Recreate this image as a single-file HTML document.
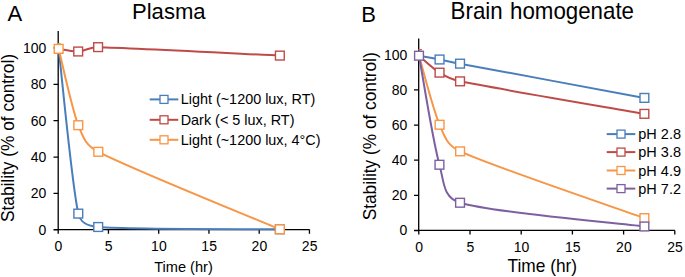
<!DOCTYPE html>
<html><head><meta charset="utf-8"><style>
html,body{margin:0;padding:0;background:#fff;}
body{width:685px;height:277px;overflow:hidden;}
svg{display:block;font-family:"Liberation Sans",sans-serif;fill:#000;}
</style></head><body>
<svg width="685" height="277" viewBox="0 0 685 277">
<rect width="685" height="277" fill="#fff"/>
<text transform="translate(7.60,21.40) scale(1,1.04)" font-size="22">A</text>
<text transform="translate(168.80,19.00) scale(1,1.04)" text-anchor="middle" font-size="22.1">Plasma</text>
<text transform="translate(361.30,21.90) scale(1,1.04)" font-size="22">B</text>
<text transform="translate(450.60,19.00) scale(1,1.04)" font-size="22.3">Brain</text>
<text transform="translate(510.00,19.00) scale(1,1.04)" font-size="22.3">homogenate</text>
<text transform="translate(13.80,138.00) rotate(-90) scale(1,1.04)" text-anchor="middle" font-size="17.3">Stability (% of control)</text>
<text transform="translate(376.30,136.30) rotate(-90) scale(1,1.04)" text-anchor="middle" font-size="17.3">Stability (% of control)</text>
<text transform="translate(183.50,271.80) scale(1,1.04)" text-anchor="middle" font-size="14.6">Time (hr)</text>
<text transform="translate(542.30,271.80) scale(1,1.04)" text-anchor="middle" font-size="17.3">Time (hr)</text>
<path d="M58.20,30.90 V229.60 H309.50" fill="none" stroke="#000" stroke-width="1.3"/>
<text transform="translate(46.30,234.65) scale(1,1.04)" text-anchor="end" font-size="14">0</text>
<text transform="translate(46.30,198.29) scale(1,1.04)" text-anchor="end" font-size="14">20</text>
<text transform="translate(46.30,161.93) scale(1,1.04)" text-anchor="end" font-size="14">40</text>
<text transform="translate(46.30,125.57) scale(1,1.04)" text-anchor="end" font-size="14">60</text>
<text transform="translate(46.30,89.21) scale(1,1.04)" text-anchor="end" font-size="14">80</text>
<text transform="translate(46.30,52.85) scale(1,1.04)" text-anchor="end" font-size="14">100</text>
<text transform="translate(58.40,250.60) scale(1,1.04)" text-anchor="middle" font-size="14">0</text>
<text transform="translate(108.65,250.60) scale(1,1.04)" text-anchor="middle" font-size="14">5</text>
<text transform="translate(158.90,250.60) scale(1,1.04)" text-anchor="middle" font-size="14">10</text>
<text transform="translate(209.15,250.60) scale(1,1.04)" text-anchor="middle" font-size="14">15</text>
<text transform="translate(259.40,250.60) scale(1,1.04)" text-anchor="middle" font-size="14">20</text>
<text transform="translate(309.65,250.60) scale(1,1.04)" text-anchor="middle" font-size="14">25</text>
<path d="M53.50,229.75 H58.20 M53.50,193.39 H58.20 M53.50,157.03 H58.20 M53.50,120.67 H58.20 M53.50,84.31 H58.20 M53.50,47.95 H58.20 M58.20,229.60 V233.80 M108.45,229.60 V233.80 M158.70,229.60 V233.80 M208.95,229.60 V233.80 M259.20,229.60 V233.80 M309.45,229.60 V233.80" fill="none" stroke="#000" stroke-width="1.3"/>
<path d="M418.70,38.40 V230.40 H674.90" fill="none" stroke="#000" stroke-width="1.3"/>
<text transform="translate(407.40,235.40) scale(1,1.04)" text-anchor="end" font-size="14">0</text>
<text transform="translate(407.40,200.26) scale(1,1.04)" text-anchor="end" font-size="14">20</text>
<text transform="translate(407.40,165.12) scale(1,1.04)" text-anchor="end" font-size="14">40</text>
<text transform="translate(407.40,129.98) scale(1,1.04)" text-anchor="end" font-size="14">60</text>
<text transform="translate(407.40,94.84) scale(1,1.04)" text-anchor="end" font-size="14">80</text>
<text transform="translate(407.40,59.70) scale(1,1.04)" text-anchor="end" font-size="14">100</text>
<text transform="translate(419.10,252.00) scale(1,1.04)" text-anchor="middle" font-size="14">0</text>
<text transform="translate(470.30,252.00) scale(1,1.04)" text-anchor="middle" font-size="14">5</text>
<text transform="translate(521.50,252.00) scale(1,1.04)" text-anchor="middle" font-size="14">10</text>
<text transform="translate(572.70,252.00) scale(1,1.04)" text-anchor="middle" font-size="14">15</text>
<text transform="translate(623.90,252.00) scale(1,1.04)" text-anchor="middle" font-size="14">20</text>
<text transform="translate(675.10,252.00) scale(1,1.04)" text-anchor="middle" font-size="14">25</text>
<path d="M414.00,230.50 H418.70 M414.00,195.36 H418.70 M414.00,160.22 H418.70 M414.00,125.08 H418.70 M414.00,89.94 H418.70 M414.00,54.80 H418.70 M418.80,230.40 V234.60 M470.00,230.40 V234.60 M521.20,230.40 V234.60 M572.40,230.40 V234.60 M623.60,230.40 V234.60 M674.80,230.40 V234.60" fill="none" stroke="#000" stroke-width="1.3"/>
<path d="M58.65,48.85 C61.92,76.31 71.71,183.91 78.30,213.60 C80.48,223.44 88.15,226.22 98.20,227.00 C131.79,229.62 249.58,228.92 279.85,229.30" fill="none" stroke="#4a7ebb" stroke-width="2.0" stroke-linejoin="round"/>
<rect x="73.90" y="209.20" width="8.8" height="8.8" fill="#fff" stroke="#4a7ebb" stroke-width="1.4"/>
<rect x="93.80" y="222.60" width="8.8" height="8.8" fill="#fff" stroke="#4a7ebb" stroke-width="1.4"/>
<rect x="275.45" y="224.90" width="8.8" height="8.8" fill="#fff" stroke="#4a7ebb" stroke-width="1.4"/>
<path d="M58.65,48.85 C61.91,49.29 71.62,51.78 78.20,51.50 C84.78,51.22 89.55,46.98 98.10,47.15 C131.71,47.83 249.56,54.19 279.85,55.60" fill="none" stroke="#be4b48" stroke-width="2.0" stroke-linejoin="round"/>
<rect x="73.80" y="47.10" width="8.8" height="8.8" fill="#fff" stroke="#be4b48" stroke-width="1.4"/>
<rect x="93.70" y="42.75" width="8.8" height="8.8" fill="#fff" stroke="#be4b48" stroke-width="1.4"/>
<rect x="275.45" y="51.20" width="8.8" height="8.8" fill="#fff" stroke="#be4b48" stroke-width="1.4"/>
<path d="M58.65,48.85 C61.92,61.58 71.69,108.04 78.30,125.20 C83.32,138.24 85.88,145.39 98.30,151.80 C131.89,169.15 249.59,216.38 279.85,229.30" fill="none" stroke="#f79646" stroke-width="2.0" stroke-linejoin="round"/>
<rect x="54.25" y="44.45" width="8.8" height="8.8" fill="#fff" stroke="#f79646" stroke-width="1.4"/>
<rect x="73.90" y="120.80" width="8.8" height="8.8" fill="#fff" stroke="#f79646" stroke-width="1.4"/>
<rect x="93.90" y="147.40" width="8.8" height="8.8" fill="#fff" stroke="#f79646" stroke-width="1.4"/>
<rect x="275.45" y="224.90" width="8.8" height="8.8" fill="#fff" stroke="#f79646" stroke-width="1.4"/>
<path d="M419.00,55.70 C422.43,56.33 432.71,58.17 439.55,59.50 C446.39,60.83 451.42,62.03 460.05,63.65 C494.19,70.05 613.67,92.19 644.40,97.90" fill="none" stroke="#4a7ebb" stroke-width="2.0" stroke-linejoin="round"/>
<rect x="435.15" y="55.10" width="8.8" height="8.8" fill="#fff" stroke="#4a7ebb" stroke-width="1.4"/>
<rect x="455.65" y="59.25" width="8.8" height="8.8" fill="#fff" stroke="#4a7ebb" stroke-width="1.4"/>
<rect x="640.00" y="93.50" width="8.8" height="8.8" fill="#fff" stroke="#4a7ebb" stroke-width="1.4"/>
<path d="M419.00,55.70 C422.43,58.53 432.71,68.38 439.55,72.65 C446.39,76.93 450.88,79.51 460.05,81.35 C494.19,88.22 613.67,108.43 644.40,113.85" fill="none" stroke="#be4b48" stroke-width="2.0" stroke-linejoin="round"/>
<rect x="435.15" y="68.25" width="8.8" height="8.8" fill="#fff" stroke="#be4b48" stroke-width="1.4"/>
<rect x="455.65" y="76.95" width="8.8" height="8.8" fill="#fff" stroke="#be4b48" stroke-width="1.4"/>
<rect x="640.00" y="109.45" width="8.8" height="8.8" fill="#fff" stroke="#be4b48" stroke-width="1.4"/>
<path d="M419.00,55.70 C422.43,67.21 432.75,108.81 439.60,124.75 C445.17,137.71 447.27,145.50 460.10,151.35 C494.23,166.92 613.68,207.02 644.40,218.15" fill="none" stroke="#f79646" stroke-width="2.0" stroke-linejoin="round"/>
<rect x="435.20" y="120.35" width="8.8" height="8.8" fill="#fff" stroke="#f79646" stroke-width="1.4"/>
<rect x="455.70" y="146.95" width="8.8" height="8.8" fill="#fff" stroke="#f79646" stroke-width="1.4"/>
<rect x="640.00" y="213.75" width="8.8" height="8.8" fill="#fff" stroke="#f79646" stroke-width="1.4"/>
<path d="M419.00,55.70 C422.41,73.88 432.61,140.24 439.45,164.75 C444.33,182.24 442.67,197.51 460.05,202.75 C494.21,213.04 613.67,222.54 644.40,226.50" fill="none" stroke="#7d60a0" stroke-width="2.0" stroke-linejoin="round"/>
<rect x="414.60" y="51.30" width="8.8" height="8.8" fill="#fff" stroke="#7d60a0" stroke-width="1.4"/>
<rect x="435.05" y="160.35" width="8.8" height="8.8" fill="#fff" stroke="#7d60a0" stroke-width="1.4"/>
<rect x="455.65" y="198.35" width="8.8" height="8.8" fill="#fff" stroke="#7d60a0" stroke-width="1.4"/>
<rect x="640.00" y="222.10" width="8.8" height="8.8" fill="#fff" stroke="#7d60a0" stroke-width="1.4"/>
<rect x="418.2" y="49.1" width="3.8" height="1.3" fill="#c45a55"/>
<rect x="57.6" y="42.9" width="3.2" height="1.0" fill="#b4b450"/>
<path d="M149.70,99.40 H178.30" stroke="#4a7ebb" stroke-width="2.0"/>
<rect x="160.00" y="95.40" width="8.0" height="8.0" fill="#fff" stroke="#4a7ebb" stroke-width="1.3"/>
<text transform="translate(180.70,104.40) scale(1,1.04)" font-size="14.4">Light (~1200 lux, RT)</text>
<path d="M149.70,119.80 H178.30" stroke="#be4b48" stroke-width="2.0"/>
<rect x="160.00" y="115.80" width="8.0" height="8.0" fill="#fff" stroke="#be4b48" stroke-width="1.3"/>
<text transform="translate(180.70,124.80) scale(1,1.04)" font-size="14.4">Dark (&lt; 5 lux, RT)</text>
<path d="M149.70,139.80 H178.30" stroke="#f79646" stroke-width="2.0"/>
<rect x="160.00" y="135.80" width="8.0" height="8.0" fill="#fff" stroke="#f79646" stroke-width="1.3"/>
<text transform="translate(180.70,144.80) scale(1,1.04)" font-size="14.4">Light (~1200 lux, 4°C)</text>
<path d="M606.70,134.10 H635.30" stroke="#4a7ebb" stroke-width="2.0"/>
<rect x="617.00" y="130.10" width="8.0" height="8.0" fill="#fff" stroke="#4a7ebb" stroke-width="1.3"/>
<text transform="translate(638.30,139.10) scale(1,1.04)" font-size="14.5">pH 2.8</text>
<path d="M606.70,152.10 H635.30" stroke="#be4b48" stroke-width="2.0"/>
<rect x="617.00" y="148.10" width="8.0" height="8.0" fill="#fff" stroke="#be4b48" stroke-width="1.3"/>
<text transform="translate(638.30,157.10) scale(1,1.04)" font-size="14.5">pH 3.8</text>
<path d="M606.70,170.50 H635.30" stroke="#f79646" stroke-width="2.0"/>
<rect x="617.00" y="166.50" width="8.0" height="8.0" fill="#fff" stroke="#f79646" stroke-width="1.3"/>
<text transform="translate(638.30,175.50) scale(1,1.04)" font-size="14.5">pH 4.9</text>
<path d="M606.70,188.60 H635.30" stroke="#7d60a0" stroke-width="2.0"/>
<rect x="617.00" y="184.60" width="8.0" height="8.0" fill="#fff" stroke="#7d60a0" stroke-width="1.3"/>
<text transform="translate(638.30,193.60) scale(1,1.04)" font-size="14.5">pH 7.2</text>
</svg>
</body></html>
